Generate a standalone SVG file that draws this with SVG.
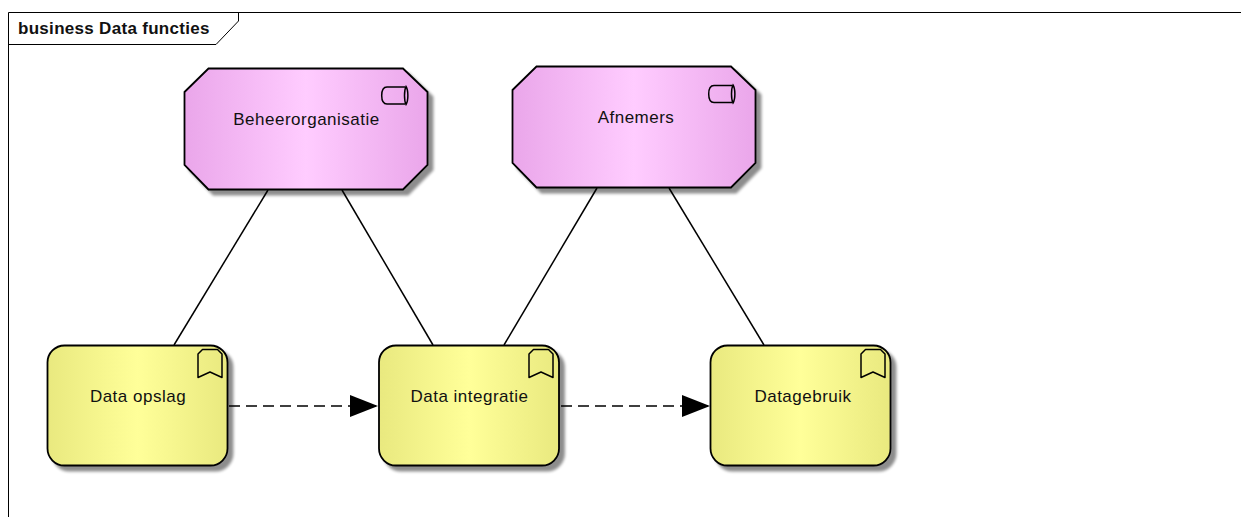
<svg xmlns="http://www.w3.org/2000/svg" width="1241" height="517" viewBox="0 0 1241 517">
<style>
text{font-family:"Liberation Sans",Arial,sans-serif;fill:#111}
.lbl{font-size:17px;text-anchor:middle;letter-spacing:.5px}
.title{font-size:17px;font-weight:bold;letter-spacing:.3px}
.shape{stroke:#000;stroke-width:1.8;filter:url(#sh)}
.act{fill:url(#pink)}
.fn{fill:url(#yellow)}
.icon{fill:none;stroke:#000;stroke-width:1.5}
.conn{fill:none;stroke:#000;stroke-width:1.5}
.dash{stroke-dasharray:11 6}
</style>
<defs>
<linearGradient id="pink" x1="0" x2="1" y1="0" y2="0"><stop offset="0" stop-color="#eaa6ea"/><stop offset=".5" stop-color="#ffccff"/><stop offset="1" stop-color="#eaa6ea"/></linearGradient>
<linearGradient id="yellow" x1="0" x2="1" y1="0" y2="0"><stop offset="0" stop-color="#e9e97f"/><stop offset=".5" stop-color="#ffff99"/><stop offset="1" stop-color="#e9e97f"/></linearGradient>
<filter id="sh" x="-5%" y="-5%" width="115%" height="120%"><feGaussianBlur in="SourceAlpha" stdDeviation="1.8"/><feOffset dx="5" dy="5"/><feComponentTransfer><feFuncA type="linear" slope=".45"/></feComponentTransfer><feMerge><feMergeNode/><feMergeNode in="SourceGraphic"/></feMerge></filter>
<marker id="head" markerUnits="userSpaceOnUse" markerWidth="28" markerHeight="22" refX="28" refY="11" orient="auto"><path d="M0 0L28 11L0 22Z" fill="#000"/></marker>
<g id="bm"><path class="icon" d="M0 4.500L4.500 0L19.500 0L24 4.500L24 28L12 22.500L0 28Z" stroke-linejoin="round"/></g>
<g id="cyl"><path class="icon" d="M24 0.500L6 0.500Q0.700 0.500 0.700 9Q0.700 17.500 6 17.500L24 17.500"/><path class="icon" d="M25 0C23 4 23 14 25 18C27.500 14 27.500 4 25 0Z"/></g>
</defs>
<g id="frame"><path d="M8.500 517V12.500H1241" fill="none" stroke="#000" stroke-width="1"/><path d="M8.500 44.500H216L238.500 21V12.500" fill="none" stroke="#000" stroke-width="1"/><text class="title" x="18" y="34">business Data functies</text></g>
<g id="connectors">
<path class="conn" d="M268 190L174 345"/><path class="conn" d="M342 190L433 345"/><path class="conn" d="M597 188L504 345"/><path class="conn" d="M669 188L764 345"/>
<path class="conn dash" d="M229 406H378" marker-end="url(#head)"/><path class="conn dash" d="M561 406H710" marker-end="url(#head)"/>
</g>
<g id="beheerorganisatie"><path class="shape act" d="M208.500 68.500H403L427.500 92V165L403 189.500H208.500L184.500 165V92Z"/><use href="#cyl" x="381" y="86.500"/><text class="lbl" x="306.500" y="125">Beheerorganisatie</text></g>
<g id="afnemers"><path class="shape act" d="M536.500 66.500H731L755.500 90V163L731 187.500H536.500L512.500 163V90Z"/><use href="#cyl" x="708" y="85"/><text class="lbl" x="636" y="123">Afnemers</text></g>
<g id="data-opslag"><rect class="shape fn" x="47.500" y="345.500" width="180" height="120" rx="17"/><use href="#bm" x="198" y="349.500"/><text class="lbl" x="138" y="402">Data opslag</text></g>
<g id="data-integratie"><rect class="shape fn" x="379" y="345.500" width="180" height="120" rx="17"/><use href="#bm" x="529" y="349.500"/><text class="lbl" x="469.500" y="402">Data integratie</text></g>
<g id="datagebruik"><rect class="shape fn" x="710.500" y="345.500" width="180" height="120" rx="17"/><use href="#bm" x="861" y="349.500"/><text class="lbl" x="803" y="402">Datagebruik</text></g>
</svg>
